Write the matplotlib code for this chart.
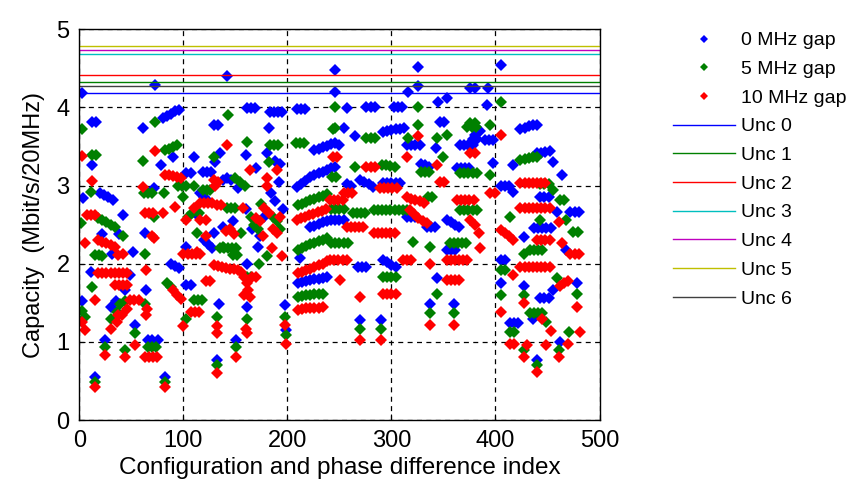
import numpy as np
import matplotlib
matplotlib.use('Agg')
import matplotlib.pyplot as plt
from matplotlib.lines import Line2D

# capacity per (configuration, phase difference) index, one list per frequency gap
gap0 = [
    (3, 4.19), (73, 4.29), (142, 4.40), (246, 4.48), (246, 4.20), (316, 4.20), (326, 4.52), (326, 4.27),
    (376, 4.25), (380, 4.25), (393, 4.25), (405, 4.54), (345, 4.07), (353, 4.12), (392, 4.03),
    (12, 3.82), (16, 3.82), (61, 3.74), (80, 3.87), (84, 3.89), (88, 3.92), (92, 3.95), (96, 3.97),
    (90, 3.37), (79, 3.27), (12, 3.27), (72, 2.97), (4, 2.84), (20, 2.90), (24, 2.88), (28, 2.85), (32, 2.82),
    (42, 2.62), (22, 2.38), (38, 2.38), (63, 2.39), (52, 2.15), (31, 2.13), (11, 1.90), (49, 1.86),
    (88, 2.00), (92, 1.97), (96, 1.95), (44, 1.66), (64, 1.66), (3, 1.52), (30, 1.45), (35, 1.52), (54, 1.22),
    (25, 1.02), (66, 1.02), (70, 1.02), (76, 1.02), (15, 0.55), (82, 0.55),
    (103, 3.16), (107, 3.16), (161, 3.99), (165, 3.99), (169, 3.99), (183, 3.94), (187, 3.94), (191, 3.94),
    (195, 3.94), (129, 3.78), (133, 3.78), (182, 3.74), (135, 3.42), (110, 3.37), (160, 3.39), (180, 3.42),
    (188, 3.31), (130, 3.30), (119, 3.18), (123, 3.18), (127, 3.18), (142, 3.10), (138, 3.07), (146, 3.07),
    (170, 3.22), (193, 3.28), (153, 2.97), (192, 3.05), (138, 2.47), (129, 2.39), (174, 2.35), (103, 2.22),
    (172, 2.22), (113, 2.62), (148, 2.55), (178, 2.60), (161, 2.00), (103, 1.73), (107, 1.73), (134, 1.49),
    (161, 1.45), (151, 1.02), (132, 0.77), (198, 1.47), (199, 1.15),
    (116, 2.90), (120, 2.85), (124, 2.80), (120, 2.30), (124, 2.25), (128, 2.20), (184, 2.90), (188, 2.80),
    (196, 2.70), (160, 2.70), (166, 2.45),
    (209, 3.98), (213, 3.98), (217, 3.98), (257, 3.99), (276, 4.00), (280, 4.00), (284, 4.00),
    (302, 4.00), (306, 4.00), (310, 4.00), (254, 3.74), (265, 3.63), (292, 3.68), (296, 3.70), (300, 3.71),
    (304, 3.72), (308, 3.73), (312, 3.74), (315, 3.52), (319, 3.52), (323, 3.52), (327, 3.52), (343, 3.48),
    (347, 3.82), (351, 3.82), (226, 3.45), (230, 3.47), (234, 3.49), (238, 3.51), (242, 3.53), (246, 3.55),
    (250, 3.52), (209, 2.98), (213, 3.02), (217, 3.06), (222, 3.11), (226, 3.14), (230, 3.16), (234, 3.18),
    (238, 3.20), (242, 3.22), (246, 3.24), (257, 3.02), (261, 3.00), (270, 3.07), (274, 3.05), (278, 3.02),
    (282, 2.98), (292, 3.03), (296, 3.03), (300, 3.03), (304, 3.03), (308, 3.03), (328, 3.28), (332, 3.26),
    (336, 3.24), (363, 3.22), (367, 3.22), (371, 3.22), (375, 3.22), (222, 2.47), (226, 2.49), (230, 2.51),
    (234, 2.53), (238, 2.55), (242, 2.56), (246, 2.56), (250, 2.56), (254, 2.56), (315, 2.60), (319, 2.60),
    (323, 2.60), (334, 2.47), (338, 2.47), (342, 2.47), (353, 2.56), (357, 2.53), (361, 2.50), (365, 2.47),
    (212, 2.07), (268, 1.96), (272, 1.96), (276, 1.96), (292, 2.05), (296, 2.02), (300, 1.99), (304, 1.96),
    (353, 2.18), (357, 2.18), (361, 2.18), (210, 1.75), (214, 1.77), (218, 1.78), (222, 1.79), (226, 1.80),
    (230, 1.81), (234, 1.82), (238, 1.83), (344, 1.82), (270, 1.28), (290, 1.28), (337, 1.49), (360, 1.49),
    (366, 3.52), (370, 3.52), (374, 3.52), (378, 3.52), (378, 3.60), (382, 3.60), (385, 3.70), (380, 3.65),
    (424, 3.73), (428, 3.74), (432, 3.76), (436, 3.77), (440, 3.78), (390, 3.58), (394, 3.58), (398, 3.58),
    (417, 3.26), (440, 3.42), (444, 3.42), (448, 3.43), (452, 3.44), (455, 3.30), (464, 3.14), (398, 3.29),
    (405, 3.00), (409, 3.00), (413, 3.00), (417, 2.92), (443, 2.85), (447, 2.85), (451, 2.85), (459, 2.66),
    (472, 2.66), (476, 2.66), (480, 2.66), (437, 2.46), (441, 2.46), (445, 2.46), (449, 2.46), (453, 2.46),
    (427, 2.34), (468, 2.18), (405, 2.05), (409, 2.05), (405, 1.75), (427, 1.71), (443, 1.56), (447, 1.56),
    (451, 1.56), (478, 1.75), (455, 1.66), (414, 1.24), (418, 1.24), (422, 1.24), (462, 1.00), (440, 0.77),
    (436, 1.30),
]

gap5 = [
    (405, 4.07), (246, 4.00), (326, 4.00), (3, 3.73), (73, 3.82), (12, 3.39), (16, 3.39), (82, 3.45),
    (86, 3.47), (90, 3.50), (94, 3.52), (61, 3.31), (11, 2.92), (62, 2.90), (66, 2.90), (70, 2.90),
    (81, 2.90), (95, 3.00), (99, 3.00), (103, 3.00), (2, 2.52), (18, 2.59), (22, 2.56), (26, 2.53),
    (30, 2.50), (34, 2.47), (72, 2.60), (42, 2.35), (22, 2.10), (15, 2.11), (19, 2.11), (63, 2.13),
    (12, 1.70), (84, 1.75), (88, 1.70), (39, 1.49), (63, 1.49), (44, 1.53), (3, 1.40), (5, 1.32), (30, 1.29),
    (36, 1.39), (54, 1.12), (25, 0.94), (66, 0.93), (70, 0.93), (74, 0.93), (44, 0.90), (15, 0.49), (82, 0.49),
    (143, 3.90), (161, 3.56), (183, 3.52), (187, 3.52), (191, 3.52), (129, 3.37), (182, 3.30), (110, 3.00),
    (119, 2.94), (123, 2.94), (126, 2.94), (159, 3.00), (100, 2.86), (142, 2.71), (146, 2.71), (150, 2.71),
    (175, 2.77), (115, 2.65), (113, 2.39), (138, 2.22), (165, 2.60), (148, 2.11), (152, 2.11), (173, 2.00),
    (161, 1.83), (165, 1.83), (110, 1.54), (114, 1.54), (118, 1.54), (132, 1.32), (161, 1.29), (103, 1.30),
    (151, 0.93), (132, 0.70), (198, 1.32), (199, 1.09), (193, 2.45), (180, 2.10), (155, 2.40),
    (135, 2.20), (139, 2.20), (143, 2.20), (147, 2.20), (151, 2.20), (168, 2.50), (172, 2.45), (186, 2.60),
    (190, 2.55), (150, 3.10), (154, 3.05), (104, 2.60), (108, 2.65),
    (208, 3.55), (212, 3.55), (216, 3.55), (246, 3.74), (244, 3.72), (276, 3.61), (280, 3.61), (284, 3.61),
    (326, 3.78), (316, 3.61), (344, 3.61), (353, 3.65), (373, 3.75), (377, 3.75), (381, 3.75), (265, 3.24),
    (291, 3.26), (295, 3.26), (299, 3.25), (303, 3.24), (328, 3.18), (332, 3.18), (336, 3.18), (350, 3.37),
    (366, 3.16), (370, 3.16), (374, 3.16), (378, 3.16), (382, 3.16), (243, 3.11), (247, 3.11), (210, 2.75),
    (214, 2.77), (218, 2.79), (222, 2.81), (226, 2.83), (230, 2.85), (234, 2.87), (238, 2.89), (242, 2.70),
    (246, 2.70), (250, 2.70), (254, 2.70), (263, 2.65), (267, 2.65), (271, 2.65), (275, 2.65), (283, 2.69),
    (287, 2.69), (291, 2.69), (295, 2.69), (299, 2.69), (303, 2.69), (307, 2.69), (311, 2.69), (315, 2.69),
    (335, 2.85), (339, 2.85), (366, 2.69), (370, 2.69), (374, 2.69), (378, 2.69), (382, 2.69), (210, 2.18),
    (214, 2.20), (218, 2.23), (222, 2.25), (226, 2.27), (230, 2.29), (234, 2.31), (238, 2.33), (242, 2.26),
    (246, 2.26), (250, 2.26), (254, 2.26), (258, 2.26), (321, 2.28), (337, 2.22), (356, 2.26), (360, 2.26),
    (364, 2.26), (368, 2.26), (372, 2.26), (292, 1.83), (296, 1.83), (300, 1.83), (304, 1.83), (210, 1.58),
    (214, 1.59), (218, 1.60), (222, 1.60), (226, 1.61), (230, 1.62), (234, 1.62), (344, 1.62), (270, 1.16),
    (290, 1.16), (337, 1.37), (360, 1.37),
    (376, 3.80), (380, 3.80), (395, 3.78), (424, 3.33), (428, 3.34), (432, 3.35), (436, 3.36), (440, 3.37),
    (395, 3.14), (443, 3.02), (447, 3.02), (451, 3.02), (455, 2.95), (462, 2.82), (466, 2.82), (414, 2.60),
    (443, 2.56), (468, 2.56), (475, 2.41), (479, 2.41), (433, 2.18), (437, 2.18), (441, 2.18), (445, 2.18),
    (427, 2.12), (405, 1.92), (409, 1.92), (459, 1.82), (427, 1.60), (478, 1.62), (433, 1.37), (437, 1.37),
    (441, 1.37), (445, 1.37), (414, 1.13), (418, 1.13), (449, 1.25), (471, 1.13), (427, 0.90), (440, 0.71),
    (461, 0.90), (405, 1.60),
]

gap10 = [
    (3, 3.38), (73, 3.44), (12, 3.06), (82, 3.14), (86, 3.13), (90, 3.12), (94, 3.11), (98, 3.10),
    (61, 2.98), (7, 2.62), (11, 2.62), (15, 2.62), (63, 2.65), (67, 2.65), (71, 2.65), (80, 2.65), (92, 2.73),
    (5, 2.26), (18, 2.30), (22, 2.28), (26, 2.26), (30, 2.24), (34, 2.22), (70, 2.35), (42, 2.12), (72, 2.33),
    (37, 2.11), (18, 1.88), (22, 1.88), (26, 1.88), (30, 1.88), (34, 1.88), (38, 1.88), (42, 1.88), (46, 1.88),
    (64, 1.92), (34, 1.73), (38, 1.73), (42, 1.73), (46, 1.73), (90, 1.66), (94, 1.60), (98, 1.55), (15, 1.54),
    (49, 1.54), (53, 1.54), (57, 1.54), (37, 1.35), (41, 1.35), (64, 1.35), (46, 1.42), (65, 1.42), (5, 1.15),
    (30, 1.17), (3, 1.25), (36, 1.25), (54, 0.96), (25, 0.83), (63, 0.81), (67, 0.81), (71, 0.81), (75, 0.81),
    (44, 0.81), (15, 0.43), (82, 0.43),
    (142, 3.52), (164, 3.20), (190, 3.20), (180, 3.10), (130, 3.00), (129, 3.07), (180, 3.00), (110, 2.71),
    (132, 2.75), (136, 2.75), (157, 2.71), (178, 2.71), (103, 2.56), (122, 2.56), (170, 2.58), (193, 2.60),
    (145, 2.45), (122, 2.35), (177, 2.35), (113, 2.15), (100, 2.13), (104, 2.13), (108, 2.13), (112, 2.13),
    (116, 2.13), (129, 1.98), (133, 1.97), (137, 1.96), (141, 1.95), (145, 1.94), (149, 1.93), (153, 1.92),
    (155, 1.90), (161, 1.75), (162, 1.66), (164, 1.58), (122, 1.78), (126, 1.78), (107, 1.38), (111, 1.38),
    (115, 1.38), (132, 1.20), (160, 1.17), (100, 1.20), (151, 0.81), (132, 0.60), (198, 1.22), (199, 0.98),
    (185, 2.20), (195, 2.10),
    (133, 3.05), (116, 2.78), (120, 2.78), (124, 2.78), (128, 2.78), (116, 2.56), (141, 2.42), (149, 2.38),
    (158, 1.83), (166, 1.83), (170, 1.83), (158, 1.60), (132, 1.12), (161, 1.12), (186, 2.45), (190, 2.40),
    (174, 2.55), (182, 2.65),
    (244, 3.37), (248, 3.37), (276, 3.24), (280, 3.24), (284, 3.24), (315, 3.37), (344, 3.26), (376, 3.42),
    (326, 3.63), (209, 2.56), (213, 2.58), (217, 2.60), (221, 2.62), (225, 2.64), (229, 2.66), (233, 2.68),
    (237, 2.70), (254, 2.90), (258, 2.90), (262, 2.90), (289, 2.97), (293, 2.97), (297, 2.97), (301, 2.97),
    (305, 2.97), (315, 2.85), (319, 2.83), (323, 2.81), (327, 2.80), (331, 2.78), (347, 3.05), (351, 3.05),
    (363, 2.82), (367, 2.82), (371, 2.82), (375, 2.82), (379, 2.82), (241, 2.82), (245, 2.82), (249, 2.82),
    (253, 2.82), (257, 2.47), (261, 2.47), (265, 2.47), (269, 2.47), (273, 2.47), (318, 2.69), (322, 2.64),
    (326, 2.59), (330, 2.55), (334, 2.52), (283, 2.39), (287, 2.39), (291, 2.39), (295, 2.39), (299, 2.39),
    (303, 2.39), (210, 1.88), (214, 1.90), (218, 1.92), (222, 1.94), (226, 1.96), (230, 1.98), (234, 2.00),
    (238, 2.03), (241, 2.05), (245, 2.05), (249, 2.05), (253, 2.05), (257, 2.05), (311, 2.05), (315, 2.05),
    (319, 2.05), (337, 2.00), (353, 2.05), (357, 2.05), (361, 2.05), (365, 2.05), (369, 2.05), (373, 2.05),
    (353, 1.79), (357, 1.79), (361, 1.79), (365, 1.79), (251, 1.79), (292, 1.62), (296, 1.62), (300, 1.62),
    (304, 1.62), (270, 1.58), (210, 1.41), (214, 1.42), (218, 1.43), (222, 1.43), (226, 1.44), (230, 1.44),
    (234, 1.45), (270, 1.02), (290, 1.02), (337, 1.22), (360, 1.22),
    (405, 3.65), (380, 3.42), (395, 2.90), (400, 2.90), (424, 3.03), (428, 3.03), (432, 3.03), (436, 3.03),
    (440, 3.03), (444, 3.03), (448, 3.03), (424, 2.71), (428, 2.71), (432, 2.71), (436, 2.71), (440, 2.71),
    (444, 2.71), (448, 2.71), (452, 2.71), (376, 2.56), (380, 2.50), (384, 2.40), (405, 2.43), (409, 2.40),
    (413, 2.35), (417, 2.30), (461, 2.53), (440, 2.30), (444, 2.30), (448, 2.30), (452, 2.30), (464, 2.26),
    (472, 2.13), (476, 2.13), (480, 2.13), (385, 2.20), (424, 1.96), (428, 1.96), (432, 1.96), (436, 1.96),
    (440, 1.96), (444, 1.96), (448, 1.96), (452, 1.96), (417, 1.86), (462, 1.72), (466, 1.75), (470, 1.78),
    (405, 1.38), (478, 1.45), (427, 1.50), (414, 0.98), (418, 0.98), (453, 1.14), (470, 0.98), (481, 1.13),
    (430, 0.96), (449, 0.96), (427, 0.81), (440, 0.62), (461, 0.81), (445, 1.30),
]

# unconstrained reference capacities (horizontal lines)
unc_labels = ['Unc 0', 'Unc 1', 'Unc 2', 'Unc 3', 'Unc 4', 'Unc 5', 'Unc 6']
unc_values = [4.19, 4.32, 4.42, 4.68, 4.73, 4.78, 4.27]
unc_colors = ['#0000ff', '#008000', '#ff0000', '#00bfbf', '#bf00bf', '#bfbf00', '#404040']

gap_labels = ['0 MHz gap', '5 MHz gap', '10 MHz gap']
gap_colors = ['#0000ff', '#008000', '#ff0000']

plt.rcParams['font.family'] = ['Liberation Sans', 'DejaVu Sans']

fig = plt.figure(figsize=(8.5, 4.88), dpi=100)
ax = fig.add_axes([0.0933, 0.139, 0.612, 0.801])

handles = []
for pts, col, lab in zip([gap0, gap5, gap10], gap_colors, gap_labels):
    arr = np.array(pts)
    ax.plot(arr[:, 0], arr[:, 1], linestyle='none', marker='D', markersize=6,
            color=col, markeredgewidth=0)
    handles.append(Line2D([], [], linestyle='none', marker='D', markersize=4,
                          color=col, markeredgewidth=0, label=lab))

for val, col, lab in zip(unc_values, unc_colors, unc_labels):
    ax.axhline(val, color=col, linewidth=1.0)
    handles.append(Line2D([], [], color=col, linewidth=1.0, label=lab))

ax.set_xlim(0, 500)
ax.set_ylim(0, 5)
ax.set_xticks(np.arange(0, 501, 100))
ax.set_yticks(np.arange(0, 6, 1))
ax.grid(True, color='black', linestyle=(0, (4, 3.5)), linewidth=0.9)
ax.tick_params(direction='in', labelsize=17, length=4, pad=7)
for sp in ax.spines.values():
    sp.set_linewidth(1.0)

ax.set_xlabel('Configuration and phase difference index', fontsize=17.5, labelpad=4)
ax.set_ylabel('Capacity  (Mbit/s/20MHz)', fontsize=17, labelpad=8)

fig.legend(handles=handles, loc='upper left', bbox_to_anchor=(0.792, 0.935),
           frameon=False, fontsize=14, handlelength=3.2, handletextpad=0.3,
           labelspacing=0.57, borderaxespad=0, borderpad=0)

fig.savefig('out.png', dpi=100)
